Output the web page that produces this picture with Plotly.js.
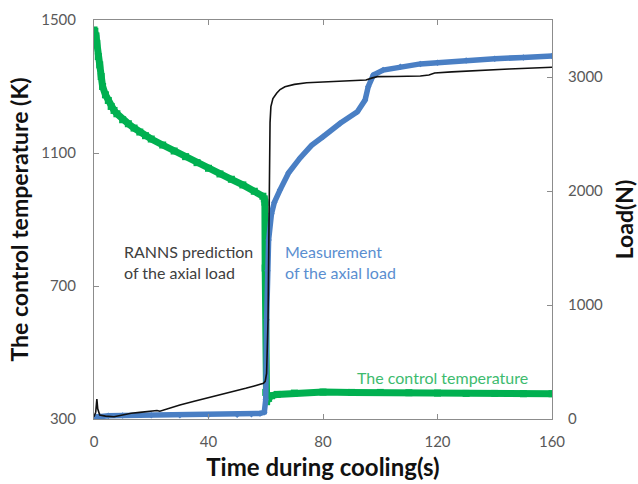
<!DOCTYPE html>
<html>
<head>
<meta charset="utf-8">
<script src="https://cdn.plot.ly/plotly-3.0.1.min.js"></script>
<style>html,body{margin:0;padding:0;background:#fff;}#chart{width:638px;height:484px;}</style>
</head>
<body>
<div id="chart"></div>
<script>
// Control temperature (K), left axis
const tempTime = [0, 0.3, 0.7, 1, 1.5, 2, 2.5, 3, 4, 5, 6, 7, 8, 10, 12, 14, 16, 18, 20, 24, 28, 32, 36, 40, 44, 48, 52, 56, 59, 59.5, 59.7, 59.8, 60.0, 60.3, 61, 62, 64, 70, 80, 90, 100, 110, 120, 130, 140, 150, 160];
const tempK    = [1470, 1466, 1452, 1430, 1390, 1365, 1330, 1300, 1275, 1258, 1240, 1228, 1218, 1200, 1188, 1175, 1163, 1152, 1142, 1124, 1106, 1089, 1071, 1054, 1037, 1021, 1004, 985, 970, 962, 952, 754, 380, 352, 362, 370, 374, 378, 381, 380, 380, 379, 378, 377, 377, 376, 376];

// Measured axial load (N), right axis
const measTime = [0, 1, 2, 5, 10, 20, 30, 40, 50, 55, 58, 59.5, 60, 60.3, 60.6, 61, 62, 63, 65, 68, 72, 76, 80, 86, 92, 94.7, 95.8, 97.6, 101, 107, 114, 120, 130, 140, 150, 160];
const measLoad = [15, 20, 25, 28, 30, 32, 33, 35, 38, 42, 48, 60, 170, 870, 1300, 1570, 1800, 1900, 2010, 2160, 2290, 2400, 2476, 2594, 2696, 2798, 2915, 3018, 3061, 3090, 3115, 3125, 3145, 3160, 3172, 3184];

// RANNS prediction of axial load (N), right axis
const predTime = [0, 0.6, 1.0, 1.3, 2, 4, 7, 10, 13, 16, 19, 22, 23, 25, 30, 35, 40, 45, 50, 53, 56, 59.2, 59.8, 60.3, 60.8, 61.2, 61.5, 61.8, 62.5, 63.8, 65, 66.7, 70, 74.3, 80, 86, 92, 95, 97, 99, 105, 114, 117, 119, 125, 136, 145, 160];
const predLoad = [20, 60, 175, 90, 35, 25, 20, 35, 50, 58, 66, 75, 68, 85, 123, 155, 185, 220, 250, 269, 290, 313, 330, 400, 870, 1900, 2600, 2740, 2810, 2857, 2890, 2915, 2935, 2950, 2958, 2965, 2970, 2974, 2990, 3003, 3005, 3009, 3018, 3035, 3045, 3061, 3070, 3085];

const xTicks = [0, 40, 80, 120, 160];
const yTicks = [300, 700, 1100, 1500];
const y2Ticks = [0, 1000, 2000, 3000];

const FONT = 'Lato, "Open Sans", sans-serif';
const GREEN = '#00b050';
const BLUE = '#4a7fc4';

const traces = [
  {x: tempTime, y: tempK, yaxis: 'y', mode: 'lines+markers', type: 'scatter',
   line: {color: GREEN, width: 7}, marker: {color: GREEN, size: 7, symbol: 'square'}, showlegend: false},
  {x: measTime, y: measLoad, yaxis: 'y2', mode: 'lines+markers', type: 'scatter',
   line: {color: BLUE, width: 5.5}, marker: {color: BLUE, size: 5, symbol: 'diamond'}, showlegend: false},
  {x: predTime, y: predLoad, yaxis: 'y2', mode: 'lines', type: 'scatter',
   line: {color: '#111111', width: 1.6}, showlegend: false}
];

const axisCommon = {
  showline: true, linecolor: '#8c8c8c', linewidth: 1,
  ticks: 'inside', ticklen: 5, tickcolor: '#8c8c8c',
  showgrid: false, zeroline: false,
  tickfont: {family: FONT, size: 15, color: '#595959'}
};

const layout = {
  width: 638, height: 484, autosize: false,
  margin: {l: 94, r: 86, t: 20, b: 65},
  paper_bgcolor: '#fff', plot_bgcolor: '#fff',
  font: {family: FONT},
  showlegend: false,
  xaxis: Object.assign({}, axisCommon, {
    range: [0, 160], tickvals: xTicks, mirror: 'ticks', ticklabelstandoff: 9,
    title: {text: 'Time during cooling(s)', font: {family: FONT, size: 24, color: '#111', weight: 'bold'}, standoff: 10}
  }),
  yaxis: Object.assign({}, axisCommon, {
    range: [300, 1500], tickvals: yTicks, ticklabelstandoff: 14,
    title: {text: 'The control temperature (K)', font: {family: FONT, size: 23, color: '#111', weight: 'bold'}, standoff: 6}
  }),
  yaxis2: Object.assign({}, axisCommon, {
    range: [0, 3500], tickvals: y2Ticks, overlaying: 'y', side: 'right', ticklabelstandoff: 12,
    title: {text: 'Load(N)', font: {family: FONT, size: 23, color: '#111', weight: 'bold'}, standoff: 16}
  }),
  annotations: [
    {xref: 'x', yref: 'y', x: 9.8, y: 771, xanchor: 'left', yanchor: 'middle', align: 'left', showarrow: false,
     text: 'RANNS prediction<br>of the axial load', font: {family: FONT, size: 16, color: '#404040'}},
    {xref: 'x', yref: 'y', x: 66, y: 771, xanchor: 'left', yanchor: 'middle', align: 'left', showarrow: false,
     text: 'Measurement<br>of the axial load', font: {family: FONT, size: 16, color: '#5a8ed0'}},
    {xref: 'x', yref: 'y', x: 91.2, y: 426, xanchor: 'left', yanchor: 'middle', align: 'left', showarrow: false,
     text: 'The control temperature', font: {family: FONT, size: 16, color: '#3dbb6e'}}
  ]
};

Plotly.newPlot('chart', traces, layout, {staticPlot: true, displayModeBar: false});
</script>
</body>
</html>
